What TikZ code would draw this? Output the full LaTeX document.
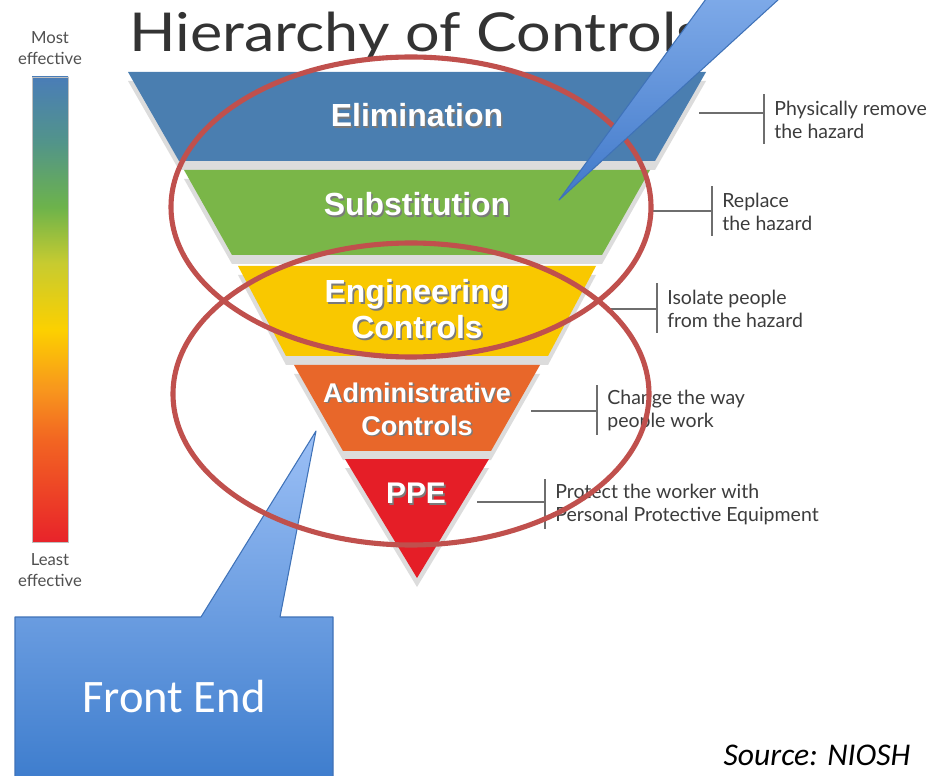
\documentclass[tikz,border=0pt]{standalone}
\usepackage{fontspec}
\setmainfont{Lato}
\newfontfamily\titlefont[FakeStretch=1.14]{Lato}
\newfontfamily\bandfont{Liberation Sans}
\newfontfamily\calfont{Carlito}
\usepackage{xcolor}
\usetikzlibrary{positioning,calc}
\definecolor{elimcol}{HTML}{4A7EB0}
\definecolor{substcol}{HTML}{7AB648}
\definecolor{engcol}{HTML}{F9C800}
\definecolor{admcol}{HTML}{E8672A}
\definecolor{ppecol}{HTML}{E51E27}
\definecolor{ringcol}{HTML}{C0504D}
\definecolor{shadowgray}{HTML}{DCDCDC}
\definecolor{lblshadow}{HTML}{7A7A7A}
\definecolor{notegray}{HTML}{3C3C3C}
\definecolor{tickgray}{HTML}{6E6E6E}
\definecolor{titlegray}{HTML}{333333}
\definecolor{callblue}{HTML}{3F72B8}
\definecolor{calltop}{HTML}{7DA9E8}
\definecolor{callbottom}{HTML}{4179C9}
\definecolor{fetop}{HTML}{9CC0F6}
\definecolor{febottom}{HTML}{3B7BCC}
\definecolor{barred}{HTML}{E8232A}
\definecolor{barorange}{HTML}{F26522}
\definecolor{baramber}{HTML}{F8971D}
\definecolor{baryellow}{HTML}{FCD000}
\definecolor{barlime}{HTML}{C7CB30}
\definecolor{bargreen}{HTML}{6DB34B}
\definecolor{barteal}{HTML}{52948A}
\definecolor{barblue}{HTML}{4A7DB7}
\pgfdeclareverticalshading{effbar}{100bp}{color(0bp)=(barred); color(25bp)=(barred); color(36bp)=(barorange); color(41.5bp)=(baramber); color(47.8bp)=(baryellow); color(55bp)=(barlime); color(61bp)=(bargreen); color(68bp)=(barteal); color(75bp)=(barblue); color(100bp)=(barblue)}
\tikzset{
    band shadow/.style={fill=shadowgray},
    band label/.style={text=white,align=center,inner sep=0pt,font=\bandfont\bfseries\fontsize{18.2}{20.5}\selectfont},
    note/.style={text=notegray,align=left,inner sep=0pt,anchor=west,font=\fontsize{11.1}{13.1}\selectfont},
    eff note/.style={text=notegray!90,align=center,inner sep=0pt,font=\fontsize{9.5}{12}\selectfont},
    tick/.style={draw=tickgray,line width=0.7pt},
    ring/.style={draw=ringcol,line width=2.9pt},
    callout line/.style={draw=callblue,line width=0.6pt,line join=round},
}
\newcommand{\lblshade}[1]{\makebox[0pt][l]{\hspace{0.9pt}\raisebox{-0.9pt}{\textcolor{lblshadow}{#1}}}#1}

\begin{document}
\begin{tikzpicture}[x=0.02cm,y=-0.02cm]
    \clip (0,0) rectangle (946,776);
    \fill[white] (0,0) rectangle (946,776);

    % effectiveness scale
    \draw[black!25,line width=0.4pt,shading=effbar] (32,77) rectangle (68,542);
    \node[eff note] (most) at (50,48) {Most\\effective};
    \node[eff note] (least) at (50,570) {Least\\effective};

    \node[text=titlegray,anchor=base west,inner sep=0pt,font=\titlefont\fontsize{30.5}{33}\selectfont] (title) at (129,52) {Hierarchy of Controls};

    % funnel
    \foreach \nm/\ty/\by/\tw/\bw/\col in {elim/72/161/289/238/elimcol, subst/170/255/233/185/substcol, engc/266/356/179/131/engcol, admc/365/451/123/74/admcol, ppe/459/578/72/0/ppecol} {
        \fill[band shadow] (417-\tw,\ty+9) -- (417+\tw,\ty+9) -- (417+\bw,\by+9) -- (417-\bw,\by+9) -- cycle;
        \fill[\col] (417-\tw,\ty) -- (417+\tw,\ty) -- (417+\bw,\by) -- (417-\bw,\by) -- cycle;
    }
    \node[band label] (elim) at (417,116) {\lblshade{Elimination}};
    \node[band label] (subst) at (417,205) {\lblshade{Substitution}};
    \node[band label] (engc) at (417,310) {\lblshade{Engineering}\\\lblshade{Controls}};
    \node[band label,font=\bandfont\bfseries\fontsize{15.4}{18.8}\selectfont] (admc) at (417,410) {\lblshade{Administrative}\\\lblshade{Controls}};
    \node[band label,font=\bandfont\bfseries\fontsize{17}{19}\selectfont] (ppe) at (416,494) {\lblshade{PPE}};

    % side notes
    \foreach \nm/\lx/\bx/\ly/\bc/\txt in {elim/699/764/113/119.5/{Physically remove\\the hazard}, subst/650/712/211/211.5/{Replace\\the hazard}, engc/610/657/309/308.5/{Isolate people\\from the hazard}, admc/531/597/411/410.5/{Change the way\\people work}, ppe/477/545/502/504/{Protect the worker with\\Personal Protective Equipment}} {
        \coordinate (\nm-out) at (\lx,\ly);
        \coordinate (\nm-bar) at (\bx,\bc);
        \draw[tick] (\nm-out) -- (\nm-out -| \nm-bar);
        \draw[tick] ($(\nm-bar)+(0,-25)$) -- ($(\nm-bar)+(0,25)$);
        \node[note] (\nm-note) at ($(\nm-bar)+(10,0)$) {\txt};
    }

    % front end callout
    \draw[callout line,top color=fetop,bottom color=febottom] (15,617) -- (201,617) -- (316,431) -- (280,617) -- (333,617) -- (333,790) -- (15,790) -- cycle;
    \node[text=white,font=\calfont\fontsize{26.5}{30}\selectfont] (frontend) at (174,697) {Front End};

    \draw[ring] (411,207) ellipse [x radius=240, y radius=150];
    \draw[ring] (411,394) ellipse [x radius=238, y radius=151];

    % upper callout
    \draw[callout line,top color=calltop,bottom color=callbottom] (706,-1) -- (559,200) -- (779,-1);

    \node[font=\calfont\itshape\fontsize{18}{20}\selectfont] (source) at (817,755) {Source: NIOSH};
\end{tikzpicture}
\end{document}
